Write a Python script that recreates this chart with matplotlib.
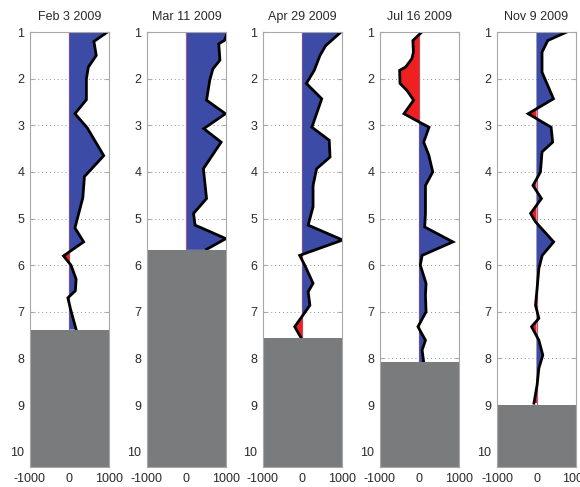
import matplotlib

matplotlib.use("Agg")
import matplotlib.pyplot as plt
import numpy as np

plt.rcParams["font.family"] = ["Liberation Sans", "DejaVu Sans"]

# survey dates
dates = ["Feb 3 2009", "Mar 11 2009", "Apr 29 2009", "Jul 16 2009", "Nov 9 2009"]

# profile 1
depth_1 = [1.0, 1.2, 1.5, 1.75, 2.0, 2.45, 2.75, 3.05, 3.35, 3.65, 4.1, 4.55,
           5.2, 5.5, 5.8, 6.0, 6.3, 6.55, 6.7, 6.95, 7.38]
value_1 = [960, 620, 680, 480, 430, 430, 140, 450, 660, 870, 380, 340,
           140, 360, -150, 40, 170, 150, -40, 30, 170]

# profile 2
depth_2 = [1.0, 1.18, 1.25, 1.6, 1.79, 2.04, 2.46, 2.75, 3.07, 3.36, 3.93,
           4.57, 4.89, 5.14, 5.43, 5.66]
value_2 = [1050, 960, 820, 850, 670, 590, 510, 990, 440, 880, 430,
           510, 180, 220, 1000, 510]

# profile 3
depth_3 = [1.0, 1.29, 1.5, 1.82, 2.1, 2.43, 3.04, 3.32, 3.68, 3.93, 4.29,
           4.75, 5.14, 5.46, 5.79, 6.0, 6.39, 6.57, 6.86, 7.32, 7.57]
value_3 = [975, 590, 445, 300, 100, 490, 240, 680, 700, 360, 270,
           270, 145, 1020, -70, 60, 270, 145, 190, -195, -25]

# profile 4
depth_4 = [1.0, 1.18, 1.43, 1.57, 1.75, 1.82, 2.1, 2.25, 2.46, 2.75, 2.93,
           3.04, 3.36, 3.64, 4.0, 4.29, 4.89, 5.18, 5.5, 5.79, 6.0, 6.39,
           6.64, 7.0, 7.32, 7.61, 7.82, 8.08]
value_4 = [60, -164, -150, -190, -350, -500, -490, -315, -145, -390, 0,
           246, 110, 240, 340, 155, 155, 135, 850, 70, 25, 170,
           155, 170, -35, 155, 70, 110]

# profile 5
depth_5 = [1.0, 1.18, 1.43, 1.86, 2.43, 2.75, 3.04, 3.36, 3.57, 4.0, 4.29,
           4.57, 4.89, 5.07, 5.5, 5.79, 6.07, 6.5, 6.86, 7.14, 7.32, 7.61,
           7.93, 8.21, 8.57, 8.96]
value_5 = [760, 285, 140, 140, 430, -210, 370, 410, 140, 100, -90,
           125, -150, -25, 435, 145, 60, 15, -25, 60, -125, 60,
           160, 60, 15, -65]

# bottom depth for each profile
bottom = [7.38, 5.67, 7.57, 8.08, 9.0]

depths = [depth_1, depth_2, depth_3, depth_4, depth_5]
values = [value_1, value_2, value_3, value_4, value_5]

BLUE = "#3c4ca6"
RED = "#ee2020"
GRAY = "#7a7b7d"
FRAME = "#a8a8a8"
TEXT = "#2a2a2a"

fig = plt.figure(figsize=(5.8, 4.87), dpi=100)
lefts = [0.0517, 0.2534, 0.4534, 0.655, 0.857]

for i, left in enumerate(lefts):
    ax = fig.add_axes([left, 0.041, 0.136, 0.893])
    d = np.array(depths[i])
    v = np.array(values[i])

    ax.axvline(0, color="#b0608a", lw=0.9, zorder=1)
    ax.fill_betweenx(d, 0, v, where=v >= 0, interpolate=True,
                     color=BLUE, lw=0, zorder=2)
    ax.fill_betweenx(d, 0, v, where=v <= 0, interpolate=True,
                     color=RED, lw=0, zorder=2)
    ax.plot(v, d, color="black", lw=2.0, zorder=3, solid_joinstyle="miter")
    ax.axhspan(bottom[i], 10.33, color=GRAY, lw=0, zorder=4)

    ax.set_xlim(-1000, 1000)
    ax.set_ylim(10.33, 1)
    ax.set_xticks([-1000, 0, 1000])
    ax.set_xticklabels(["-1000", "0", "1000"])
    ax.set_yticks(range(1, 11))
    ax.yaxis.grid(True, linestyle=(0, (1, 3)), color="#909090", lw=0.7)
    ax.set_axisbelow(True)
    ax.tick_params(direction="in", length=3, color=FRAME, labelsize=9,
                   labelcolor=TEXT, top=True, right=True, pad=4)
    for sp in ax.spines.values():
        sp.set_color(FRAME)
        sp.set_linewidth(0.8)
        sp.set_zorder(5)
    ax.set_title(dates[i], fontsize=9, color=TEXT, pad=9)

plt.savefig("out.png", dpi=100)
plt.close(fig)
